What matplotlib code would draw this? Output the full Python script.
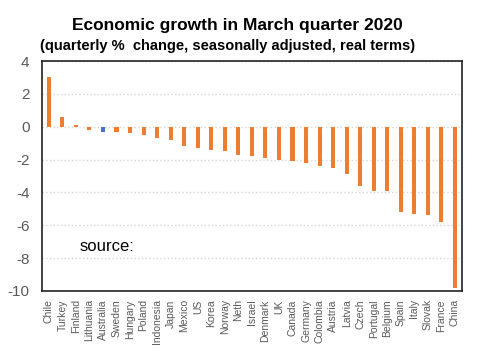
import matplotlib.pyplot as plt

countries = ["Chile", "Turkey", "Finland", "Lithuania", "Australia", "Sweden",
             "Hungary", "Poland", "Indonesia", "Japan", "Mexico", "US", "Korea",
             "Norway", "Neth", "Israel", "Denmark", "UK", "Canada", "Germany",
             "Colombia", "Austria", "Latvia", "Czech", "Portugal", "Belgium",
             "Spain", "Italy", "Slovak", "France", "China"]
growth = [3.0, 0.6, 0.1, -0.2, -0.3, -0.3, -0.4, -0.5, -0.7, -0.8, -1.2, -1.3,
          -1.4, -1.5, -1.7, -1.8, -1.9, -2.0, -2.1, -2.2, -2.4, -2.5, -2.9,
          -3.6, -3.9, -3.9, -5.2, -5.3, -5.4, -5.8, -9.8]
highlight = "Australia"

plt.rcParams['font.family'] = ['Liberation Sans', 'DejaVu Sans']
plt.rcParams['axes.unicode_minus'] = False

fig = plt.figure(figsize=(4.78, 3.61), dpi=100)
ax = fig.add_axes([0.088, 0.194, 0.878, 0.637])

# Australia in blue, everyone else orange
colors = ['#4472C4' if c == highlight else '#ED7D31' for c in countries]
x = range(len(countries))
ax.bar(x, growth, width=0.3, color=colors, zorder=3)

ax.set_xlim(-0.5, len(countries) - 0.5)
ax.set_ylim(-10, 4)
ax.set_yticks(range(-10, 5, 2))
ax.set_xticks(list(x))
ax.set_xticklabels(countries, rotation=90, fontsize=7.5, color='#595959')
ax.tick_params(axis='y', labelsize=11, colors='#595959', length=0, pad=9)
ax.tick_params(axis='x', length=0, pad=6)
ax.grid(axis='y', color='#d6d6d6', linestyle=':', linewidth=1.0, zorder=0)
for s in ax.spines.values():
    s.set_color('#222222')
    s.set_linewidth(1.2)

ax.text(0.09, 0.175, "source:", transform=ax.transAxes, fontsize=12, color='black')

fig.text(0.497, 0.93, "Economic growth in March quarter 2020", ha='center',
         va='center', fontsize=12.5, fontweight='bold')
fig.text(0.477, 0.872, "(quarterly %  change, seasonally adjusted, real terms)",
         ha='center', va='center', fontsize=10.5, fontweight='bold')

fig.savefig("out.png", dpi=100)
